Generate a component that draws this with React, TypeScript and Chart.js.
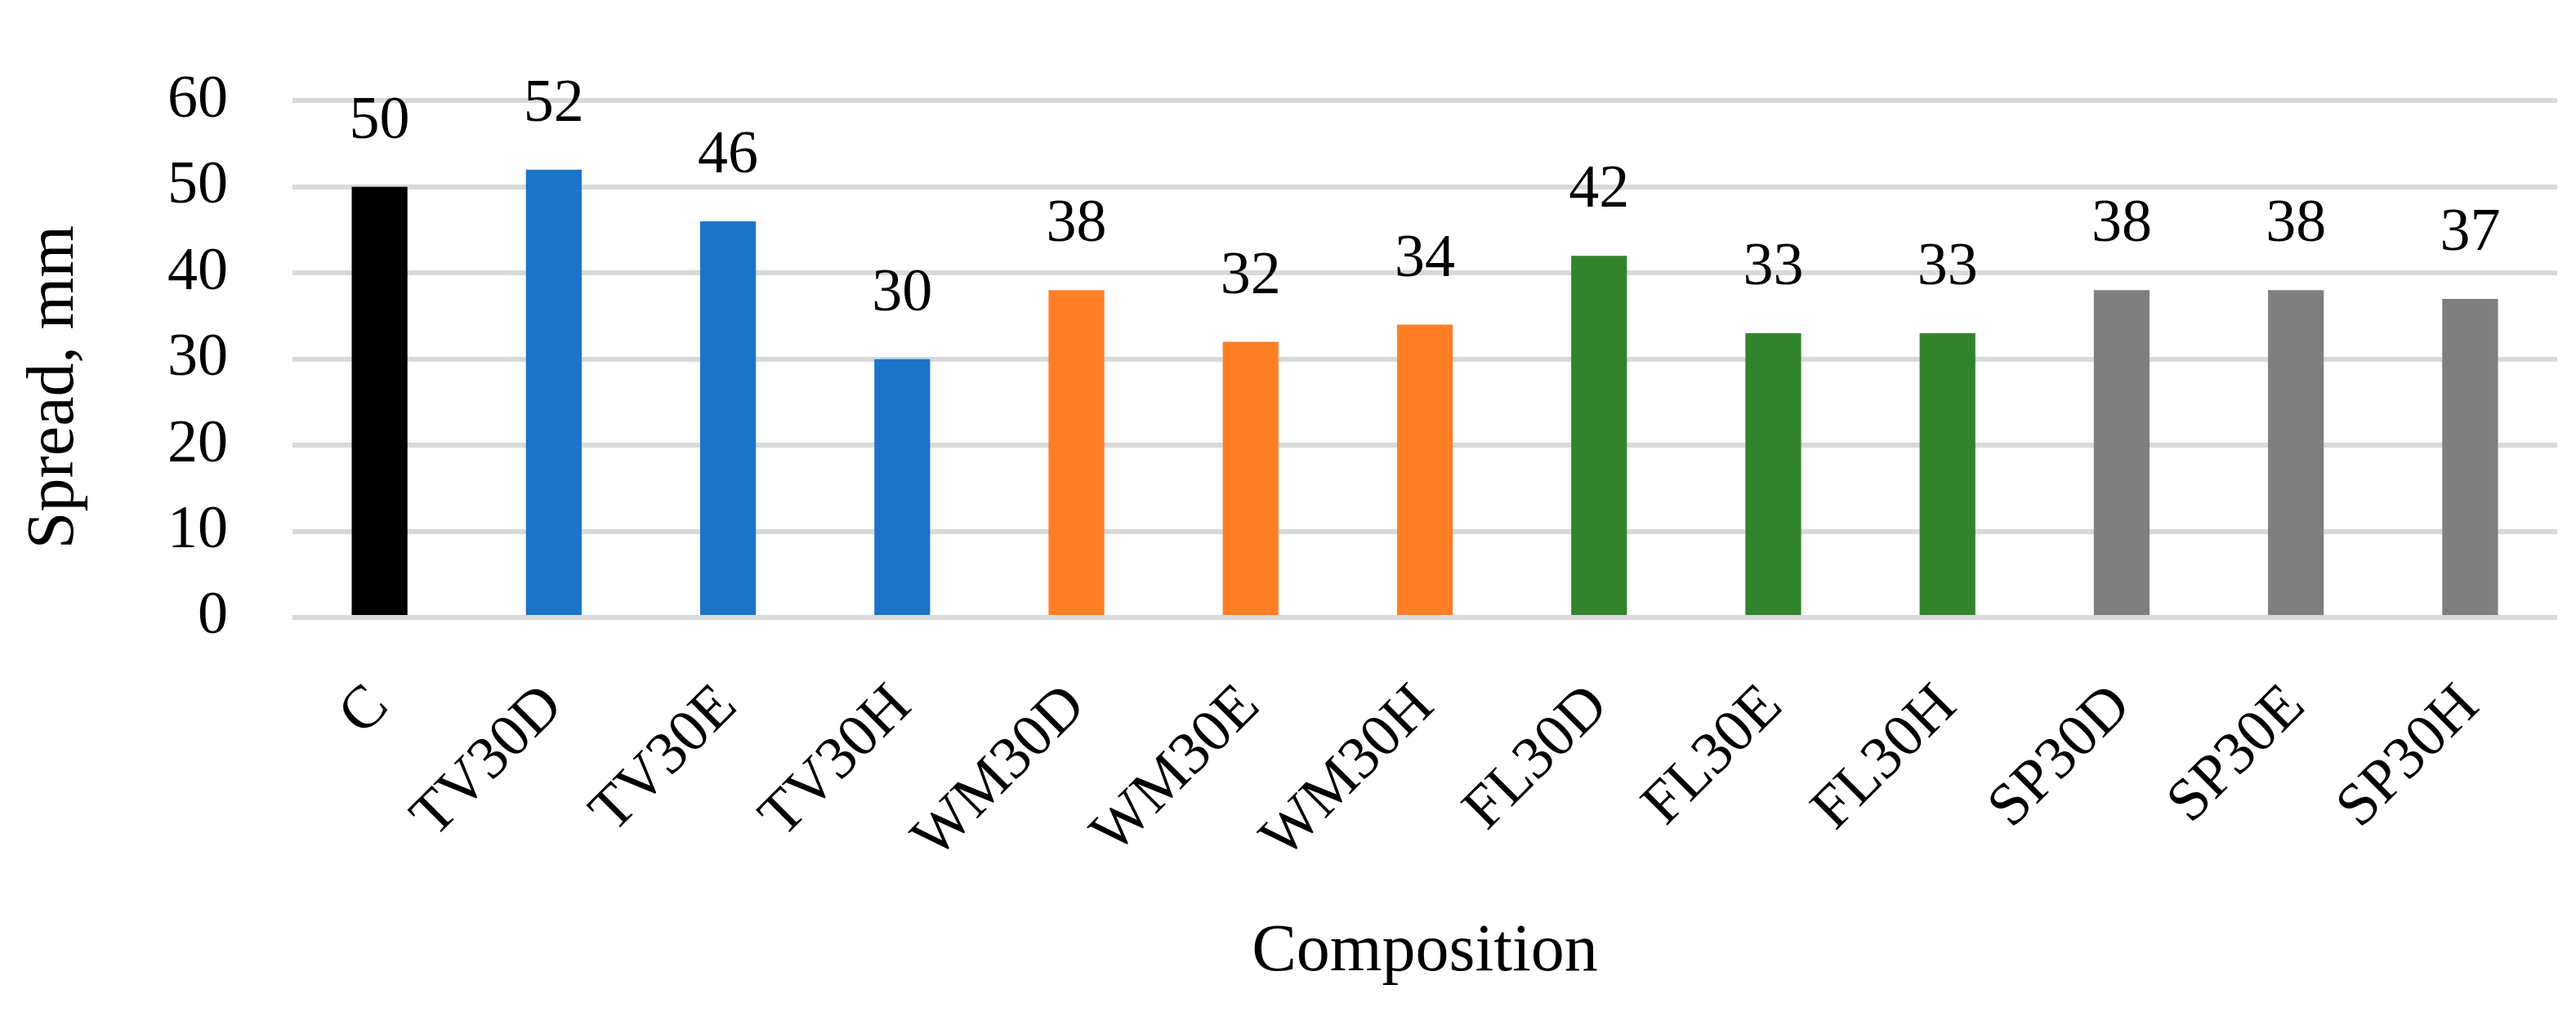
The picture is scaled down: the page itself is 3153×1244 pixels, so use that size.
import React, { useEffect, useRef } from "react";
import { Chart, registerables } from "chart.js";

Chart.register(...registerables);

const categories = ["C", "TV30D", "TV30E", "TV30H", "WM30D", "WM30E", "WM30H", "FL30D", "FL30E", "FL30H", "SP30D", "SP30E", "SP30H"];
const spreadValues = [50, 52, 46, 30, 38, 32, 34, 42, 33, 33, 38, 38, 37];
const barColors = ["#000000", "#1a74c9", "#1a74c9", "#1a74c9", "#ff7f27", "#ff7f27", "#ff7f27", "#31842c", "#31842c", "#31842c", "#7f7f7f", "#7f7f7f", "#7f7f7f"];
const yTicks = [0, 10, 20, 30, 40, 50, 60];
const yTitle = "Spread, mm";
const xTitle = "Composition";

const FONT = "'Liberation Serif', 'Times New Roman', serif";
const FS = 74;
const TITLE_FS = 82;

export default function App() {
  const ref = useRef<HTMLCanvasElement | null>(null);
  useEffect(() => {
    if (!ref.current) return;
    const labelsPlugin = {
      id: "customText",
      afterDatasetsDraw(chart: any) {
        const ctx = chart.ctx;
        ctx.save();
        ctx.fillStyle = "#000";
        ctx.font = `${FS}px ${FONT}`;
        ctx.textAlign = "center";
        ctx.textBaseline = "alphabetic";
        const meta = chart.getDatasetMeta(0);
        meta.data.forEach((bar: any, i: number) => {
          ctx.fillText(String(spreadValues[i]), bar.x, bar.y - 60);
        });
        const area = chart.chartArea;
        ctx.font = `${TITLE_FS}px ${FONT}`;
        // y title
        ctx.save();
        ctx.translate(67, 474);
        ctx.rotate(-Math.PI / 2);
        ctx.textBaseline = "middle";
        ctx.fillText(yTitle, 0, 0);
        ctx.restore();
        // x title
        ctx.textBaseline = "middle";
        ctx.fillText(xTitle, (area.left + area.right) / 2, 1166);
        ctx.restore();
      },
    };
    const chart = new Chart(ref.current, {
      type: "bar",
      data: {
        labels: categories,
        datasets: [
          {
            data: spreadValues,
            backgroundColor: barColors,
            barPercentage: 0.32,
            categoryPercentage: 1,
          },
        ],
      },
      options: {
        responsive: false,
        animation: false,
        devicePixelRatio: 1,
        layout: { padding: { top: 91, right: 23, left: 0, bottom: 0 } },
        plugins: { legend: { display: false }, tooltip: { enabled: false } },
        scales: {
          x: {
            grid: { display: false },
            border: { display: false },
            ticks: {
              minRotation: 45,
              maxRotation: 45,
              autoSkip: false,
              padding: 58,
              color: "#000",
              font: { family: FONT, size: FS },
            },
            afterFit(scale: any) {
              scale.height = 1244 - 756;
            },
          },
          y: {
            min: 0,
            max: 60,
            afterBuildTicks(scale: any) {
              scale.ticks = yTicks.map((v) => ({ value: v }));
            },
            grid: { color: "#d9d9d9", lineWidth: 6, drawTicks: false },
            border: { display: false },
            ticks: {
              padding: 79,
              color: "#000",
              font: { family: FONT, size: FS },
            },
            afterFit(scale: any) {
              scale.width = 358;
            },
          },
        },
      },
      plugins: [labelsPlugin],
    });
    return () => chart.destroy();
  }, []);
  return (
    <div style={{ position: "absolute", left: 0, top: 0, width: 3153, height: 1244, background: "#fff" }}>
      <canvas ref={ref} width={3153} height={1244} style={{ width: 3153, height: 1244 }} />
    </div>
  );
}
